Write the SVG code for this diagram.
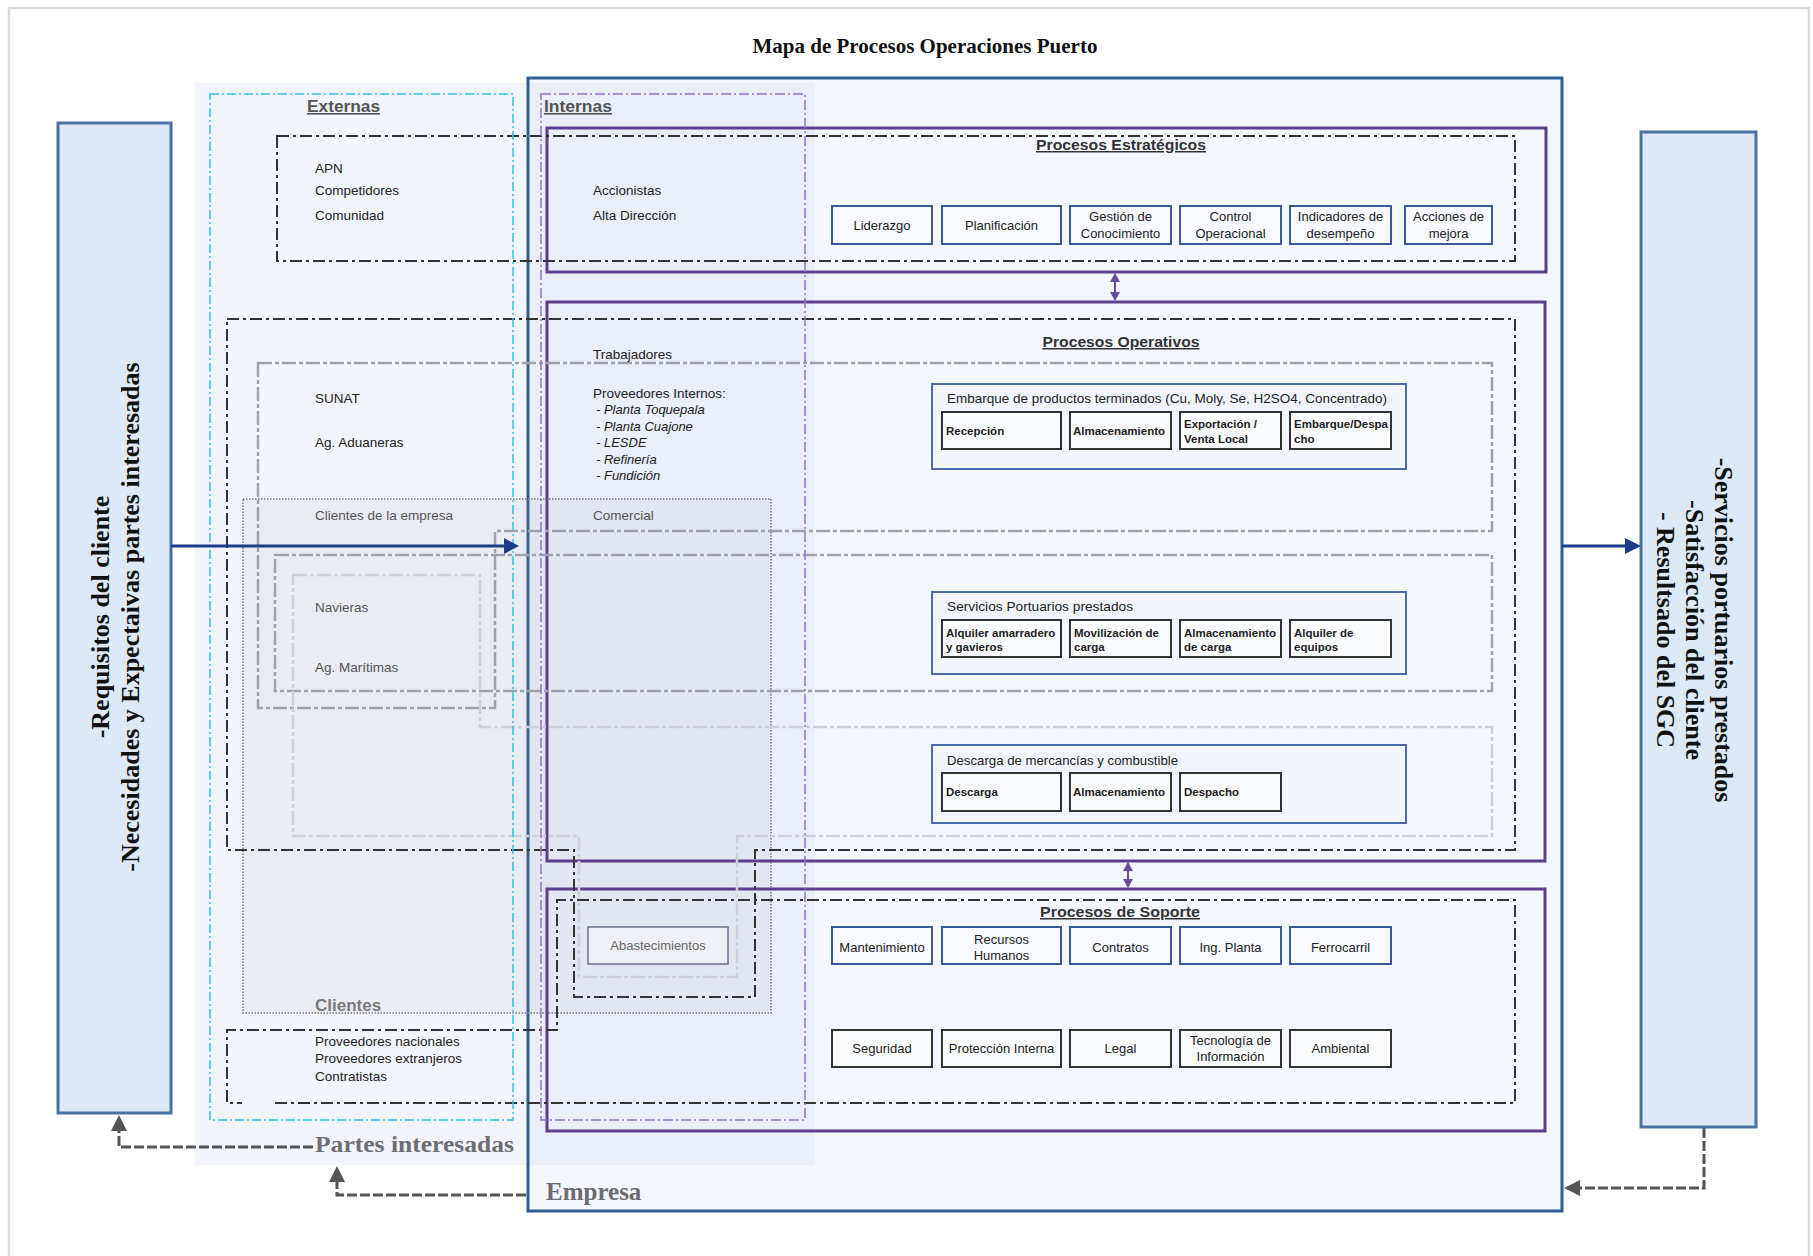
<svg xmlns="http://www.w3.org/2000/svg" width="1813" height="1256" viewBox="0 0 1813 1256">
<style>
.t{font-family:"Liberation Sans",Arial,sans-serif;font-size:13.5px;fill:#222}
.it{font-style:italic;font-size:13px}
.gt{fill:#555}
.lbl{font-family:"Liberation Sans",Arial,sans-serif;font-weight:bold;font-size:16px;fill:#555;text-decoration:underline}
.hdr{font-family:"Liberation Sans",Arial,sans-serif;font-weight:bold;font-size:15px;fill:#333;text-decoration:underline;text-anchor:middle}
.bx{font-family:"Liberation Sans",Arial,sans-serif;font-size:13px;fill:#222;text-anchor:middle}
.sb{font-family:"Liberation Sans",Arial,sans-serif;font-size:11.5px;font-weight:bold;fill:#222}
.ct{font-family:"Liberation Sans",Arial,sans-serif;font-size:13px;fill:#222}
.sf{font-family:"Liberation Serif","Times New Roman",serif;font-weight:bold}
.bbox{fill:#f8faff;stroke:#3a5a96;stroke-width:2}
.kbox{fill:#fafbfd;stroke:#333;stroke-width:2}
.cont{fill:#f2f5fc;stroke:#4a6aa8;stroke-width:2}
.sec{fill:none;stroke:#5e3f8f;stroke-width:3}
.dd{fill:none;stroke:#333;stroke-width:2;stroke-dasharray:12 4 3 4}
.gd{fill:none;stroke:#a0a2aa;stroke-width:2.5;stroke-dasharray:14 3 4 3}
.gl{fill:none;stroke:#cfd1d8;stroke-width:2.5;stroke-dasharray:14 3 4 3}
.side{fill:#dde9f6;stroke:#4a72a0;stroke-width:3}
.blue{stroke:#1b3c8a;stroke-width:3;fill:none}
.gcon{stroke:#555;stroke-width:3;fill:none;stroke-dasharray:10 3}
.pur{stroke:#6a4a9c;stroke-width:2;fill:none}
</style>

<!-- frame -->
<path d="M9,1256 V8 H1809 V1256" fill="none" stroke="#d9d9d9" stroke-width="2.5"/>

<text class="sf" x="925" y="53" font-size="21" text-anchor="middle" fill="#111">Mapa de Procesos Operaciones Puerto</text>

<!-- regions -->
<g id="empresa">
  <rect x="528" y="78" width="1034" height="1133" fill="#f4f7fd"/>
</g>
<g id="partes-interesadas">
  <rect x="195" y="83" width="620" height="1082" fill="rgb(190,205,235)" fill-opacity="0.2"/>
  <text class="sf" x="315" y="1152" font-size="23" fill="#6e6e72" textLength="199" lengthAdjust="spacingAndGlyphs">Partes interesadas</text>
</g>
<rect x="528" y="78" width="1034" height="1133" fill="none" stroke="#2f5f91" stroke-width="3"/>
<text class="sf" x="546" y="1200" font-size="25" fill="#6b6b70">Empresa</text>

<!-- clientes region -->
<g id="clientes">
  <rect x="243" y="499" width="528" height="514" fill="rgb(140,150,170)" fill-opacity="0.09" stroke="#777" stroke-width="1.5" stroke-dasharray="1.5 1.5"/>
  <text x="315" y="1011" style="font-family:'Liberation Sans',Arial,sans-serif;font-size:17px;font-weight:bold;fill:#7a7a7a">Clientes</text>
</g>

<!-- process sections -->
<rect class="sec" x="547" y="128" width="999" height="144"/>
<rect class="sec" x="547" y="302" width="998" height="559"/>
<rect class="sec" x="547" y="889" width="998" height="242"/>

<!-- gray sub groups -->
<path class="gd" d="M258,363 H1492 V531 H495 V708 H258 Z"/>
<rect class="gd" x="275" y="555" width="1217" height="136"/>
<path class="gl" d="M293,575 H480 V727 H1492 V836 H737 V977 H579 V836 H293 Z"/>

<!-- dash-dot groups -->
<rect class="dd" x="277" y="136" width="1238" height="125"/>
<path class="dd" d="M227,319 H1515 V850 H755 V997 H574 V850 H227 Z"/>
<path class="dd" d="M275,1103 H1515 V900 H557 V1030 H227 V1103 H242"/>

<!-- externas / internas -->
<g id="externas">
  <rect x="210" y="94" width="303" height="1026" fill="none" stroke="#29c5ef" stroke-width="1.5" stroke-dasharray="9 3 2 3"/>
  <text class="lbl" x="307" y="112" textLength="73" lengthAdjust="spacingAndGlyphs">Externas</text>
</g>
<g id="internas">
  <rect x="541" y="94" width="264" height="1026" fill="none" stroke="#9670cc" stroke-width="1.5" stroke-dasharray="10 3 2 3"/>
  <text class="lbl" x="544" y="112" textLength="68" lengthAdjust="spacingAndGlyphs">Internas</text>
</g>

<!-- stakeholder texts -->
<g id="stakeholders-ext">
  <text class="t" x="315" y="173">APN</text>
  <text class="t" x="315" y="195">Competidores</text>
  <text class="t" x="315" y="220">Comunidad</text>
  <text class="t" x="315" y="403">SUNAT</text>
  <text class="t" x="315" y="447">Ag. Aduaneras</text>
  <text class="t gt" x="315" y="520">Clientes de la empresa</text>
  <text class="t gt" x="315" y="612">Navieras</text>
  <text class="t gt" x="315" y="672">Ag. Marítimas</text>
  <text class="t" x="315" y="1046">Proveedores nacionales</text>
  <text class="t" x="315" y="1063">Proveedores extranjeros</text>
  <text class="t" x="315" y="1081">Contratistas</text>
</g>
<g id="stakeholders-int">
  <text class="t" x="593" y="195">Accionistas</text>
  <text class="t" x="593" y="220">Alta Dirección</text>
  <text class="t" x="593" y="359">Trabajadores</text>
  <text class="t" x="593" y="398">Proveedores Internos:</text>
  <text class="t it" x="596" y="414">- Planta Toquepala</text>
  <text class="t it" x="596" y="431">- Planta Cuajone</text>
  <text class="t it" x="596" y="447">- LESDE</text>
  <text class="t it" x="596" y="464">- Refinería</text>
  <text class="t it" x="596" y="480">- Fundición</text>
  <text class="t gt" x="593" y="520">Comercial</text>
</g>

<!-- Procesos Estratégicos -->
<g id="procesos-estrategicos">
  <text class="hdr" x="1121" y="150" textLength="170" lengthAdjust="spacingAndGlyphs">Procesos Estratégicos</text>
  <g id="liderazgo"><rect class="bbox" x="832" y="206" width="100" height="38"/><text class="bx" x="882" y="230">Liderazgo</text></g>
  <g id="planificacion"><rect class="bbox" x="942" y="206" width="119" height="38"/><text class="bx" x="1001.5" y="230">Planificación</text></g>
  <g id="gestion-conocimiento"><rect class="bbox" x="1070" y="206" width="101" height="38"/><text class="bx" x="1120.5" y="221">Gestión de</text><text class="bx" x="1120.5" y="238">Conocimiento</text></g>
  <g id="control-operacional"><rect class="bbox" x="1180" y="206" width="101" height="38"/><text class="bx" x="1230.5" y="221">Control</text><text class="bx" x="1230.5" y="238">Operacional</text></g>
  <g id="indicadores"><rect class="bbox" x="1290" y="206" width="101" height="38"/><text class="bx" x="1340.5" y="221">Indicadores de</text><text class="bx" x="1340.5" y="238">desempeño</text></g>
  <g id="acciones-mejora"><rect class="bbox" x="1405" y="206" width="87" height="38"/><text class="bx" x="1448.5" y="221">Acciones de</text><text class="bx" x="1448.5" y="238">mejora</text></g>
</g>

<!-- Procesos Operativos -->
<g id="procesos-operativos">
  <text class="hdr" x="1121" y="347" textLength="157" lengthAdjust="spacingAndGlyphs">Procesos Operativos</text>
  <g id="embarque">
    <rect class="cont" x="932" y="384" width="474" height="85"/>
    <text class="ct" x="947" y="403" textLength="440" lengthAdjust="spacingAndGlyphs">Embarque de productos terminados (Cu, Moly, Se, H2SO4, Concentrado)</text>
    <rect class="kbox" x="942" y="412" width="119" height="37"/><text class="sb" x="946" y="435">Recepción</text>
    <rect class="kbox" x="1070" y="412" width="101" height="37"/><text class="sb" x="1073" y="435">Almacenamiento</text>
    <rect class="kbox" x="1180" y="412" width="101" height="37"/><text class="sb" x="1184" y="428">Exportación /</text><text class="sb" x="1184" y="443">Venta Local</text>
    <rect class="kbox" x="1290" y="412" width="101" height="37"/><text class="sb" x="1294" y="428">Embarque/Despa</text><text class="sb" x="1294" y="443">cho</text>
  </g>
  <g id="servicios-portuarios">
    <rect class="cont" x="932" y="592" width="474" height="82"/>
    <text class="ct" x="947" y="611" textLength="186" lengthAdjust="spacingAndGlyphs">Servicios Portuarios prestados</text>
    <rect class="kbox" x="942" y="620" width="119" height="37"/><text class="sb" x="946" y="637">Alquiler amarradero</text><text class="sb" x="946" y="651">y gavieros</text>
    <rect class="kbox" x="1070" y="620" width="101" height="37"/><text class="sb" x="1074" y="637">Movilización de</text><text class="sb" x="1074" y="651">carga</text>
    <rect class="kbox" x="1180" y="620" width="101" height="37"/><text class="sb" x="1184" y="637">Almacenamiento</text><text class="sb" x="1184" y="651">de carga</text>
    <rect class="kbox" x="1290" y="620" width="101" height="37"/><text class="sb" x="1294" y="637">Alquiler de</text><text class="sb" x="1294" y="651">equipos</text>
  </g>
  <g id="descarga">
    <rect class="cont" x="932" y="745" width="474" height="78"/>
    <text class="ct" x="947" y="765" textLength="231" lengthAdjust="spacingAndGlyphs">Descarga de mercancías y combustible</text>
    <rect class="kbox" x="942" y="773" width="119" height="38"/><text class="sb" x="946" y="796">Descarga</text>
    <rect class="kbox" x="1070" y="773" width="101" height="38"/><text class="sb" x="1073" y="796">Almacenamiento</text>
    <rect class="kbox" x="1180" y="773" width="101" height="38"/><text class="sb" x="1184" y="796">Despacho</text>
  </g>
</g>

<!-- Procesos de Soporte -->
<g id="procesos-soporte">
  <text class="hdr" x="1120" y="917" textLength="160" lengthAdjust="spacingAndGlyphs">Procesos de Soporte</text>
  <g id="abastecimientos"><rect x="588" y="927" width="140" height="37" fill="#eef0f6" stroke="#6b7186" stroke-width="1.5"/><text x="658" y="950" style="font-family:'Liberation Sans',Arial,sans-serif;font-size:13px;fill:#666;text-anchor:middle">Abastecimientos</text></g>
  <g id="mantenimiento"><rect class="bbox" x="832" y="927" width="100" height="37"/><text class="bx" x="882" y="952">Mantenimiento</text></g>
  <g id="recursos-humanos"><rect class="bbox" x="942" y="927" width="119" height="37"/><text class="bx" x="1001.5" y="944">Recursos</text><text class="bx" x="1001.5" y="960">Humanos</text></g>
  <g id="contratos"><rect class="bbox" x="1070" y="927" width="101" height="37"/><text class="bx" x="1120.5" y="952">Contratos</text></g>
  <g id="ing-planta"><rect class="bbox" x="1180" y="927" width="101" height="37"/><text class="bx" x="1230.5" y="952">Ing. Planta</text></g>
  <g id="ferrocarril"><rect class="bbox" x="1290" y="927" width="101" height="37"/><text class="bx" x="1340.5" y="952">Ferrocarril</text></g>
  <g id="seguridad"><rect class="kbox" x="832" y="1030" width="100" height="37"/><text class="bx" x="882" y="1053">Seguridad</text></g>
  <g id="proteccion-interna"><rect class="kbox" x="942" y="1030" width="119" height="37"/><text class="bx" x="1001.5" y="1053">Protección Interna</text></g>
  <g id="legal"><rect class="kbox" x="1070" y="1030" width="101" height="37"/><text class="bx" x="1120.5" y="1053">Legal</text></g>
  <g id="tecnologia"><rect class="kbox" x="1180" y="1030" width="101" height="37"/><text class="bx" x="1230.5" y="1045">Tecnología de</text><text class="bx" x="1230.5" y="1061">Información</text></g>
  <g id="ambiental"><rect class="kbox" x="1290" y="1030" width="101" height="37"/><text class="bx" x="1340.5" y="1053">Ambiental</text></g>
</g>

<!-- side boxes -->
<g id="entrada">
  <rect class="side" x="58" y="123" width="113" height="990"/>
  <g transform="translate(114,617) rotate(-90)">
    <text class="sf" x="0" y="-5" font-size="26" text-anchor="middle" fill="#111">-Requisitos del cliente</text>
    <text class="sf" x="0" y="25" font-size="26" text-anchor="middle" fill="#111">-Necesidades y Expectaivas partes interesadas</text>
  </g>
</g>
<g id="salida">
  <rect class="side" x="1641" y="132" width="115" height="995"/>
  <g transform="translate(1699,630) rotate(90)">
    <text class="sf" x="0" y="-16" font-size="26" text-anchor="middle" fill="#111">-Servicios portuarios prestados</text>
    <text class="sf" x="0" y="13" font-size="26" text-anchor="middle" fill="#111">-Satisfacción del cliente</text>
    <text class="sf" x="0" y="42" font-size="26" text-anchor="middle" fill="#111">- Resultsado del SGC</text>
  </g>
</g>

<!-- connectors -->
<g id="connectors">
  <line class="blue" x1="171" y1="546" x2="506" y2="546"/>
  <polygon points="519,546 504,538 504,554" fill="#1b3c8a"/>
  <line class="blue" x1="1562" y1="546" x2="1627" y2="546"/>
  <polygon points="1641,546 1625,538 1625,554" fill="#1b3c8a"/>

  <line class="pur" x1="1115" y1="280" x2="1115" y2="294"/>
  <polygon points="1115,273 1110,282 1120,282" fill="#6a4a9c"/>
  <polygon points="1115,301 1110,292 1120,292" fill="#6a4a9c"/>
  <line class="pur" x1="1128" y1="869" x2="1128" y2="881"/>
  <polygon points="1128,862 1123,871 1133,871" fill="#6a4a9c"/>
  <polygon points="1128,888 1123,879 1133,879" fill="#6a4a9c"/>

  <path class="gcon" d="M1704,1128 V1188 H1580"/>
  <polygon points="1564,1188 1580,1180 1580,1196" fill="#555"/>
  <path class="gcon" d="M526,1195 H337 V1182"/>
  <polygon points="337,1166 329,1182 345,1182" fill="#555"/>
  <path class="gcon" d="M313,1147 H119 V1131"/>
  <polygon points="119,1115 111,1131 127,1131" fill="#555"/>
</g>
</svg>
